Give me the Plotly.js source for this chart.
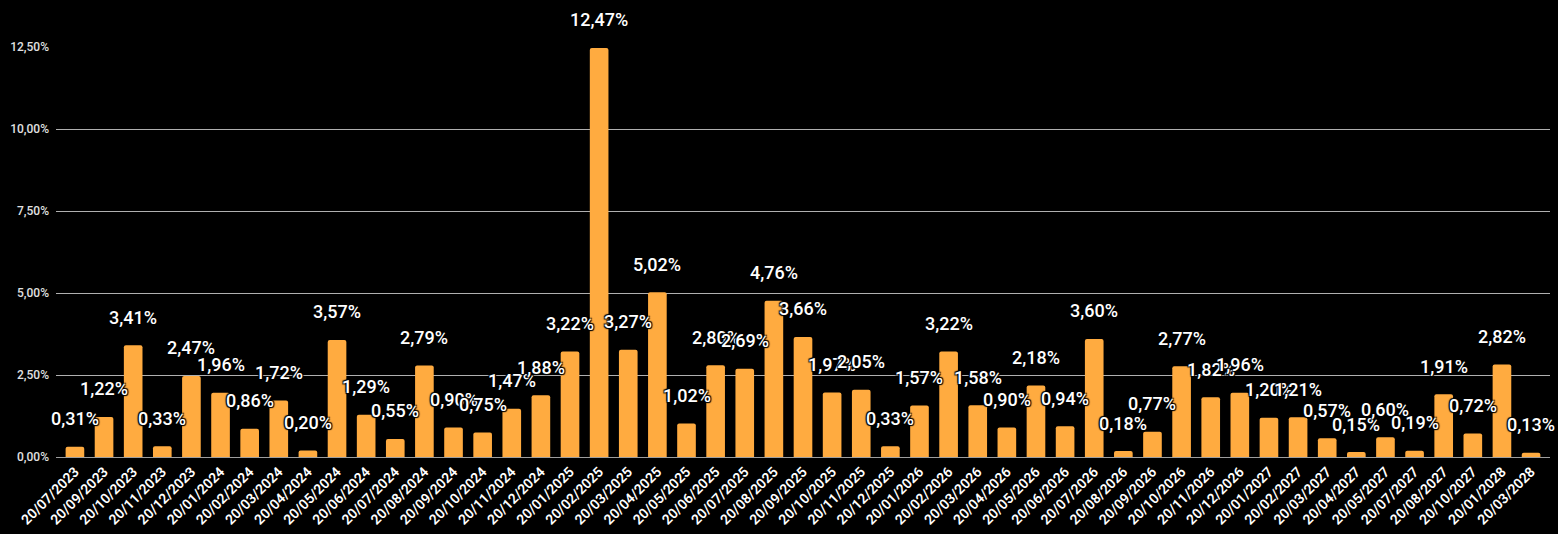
<!DOCTYPE html>
<html>
<head>
<meta charset="utf-8">
<script src="https://cdn.plot.ly/plotly-3.0.1.min.js"></script>
<style>html,body{margin:0;padding:0;background:#000;}#chart{width:1558px;height:534px;}</style>
</head>
<body>
<div id="chart"></div>
<script>
const categories = ["20/07/2023","20/09/2023","20/10/2023","20/11/2023","20/12/2023","20/01/2024","20/02/2024","20/03/2024","20/04/2024","20/05/2024","20/06/2024","20/07/2024","20/08/2024","20/09/2024","20/10/2024","20/11/2024","20/12/2024","20/01/2025","20/02/2025","20/03/2025","20/04/2025","20/05/2025","20/06/2025","20/07/2025","20/08/2025","20/09/2025","20/10/2025","20/11/2025","20/12/2025","20/01/2026","20/02/2026","20/03/2026","20/04/2026","20/05/2026","20/06/2026","20/07/2026","20/08/2026","20/09/2026","20/10/2026","20/11/2026","20/12/2026","20/01/2027","20/02/2027","20/03/2027","20/04/2027","20/05/2027","20/07/2027","20/08/2027","20/10/2027","20/01/2028","20/03/2028"];
const values = [0.31,1.22,3.41,0.33,2.47,1.96,0.86,1.72,0.20,3.57,1.29,0.55,2.79,0.90,0.75,1.47,1.88,3.22,12.47,3.27,5.02,1.02,2.80,2.69,4.76,3.66,1.97,2.05,0.33,1.57,3.22,1.58,0.90,2.18,0.94,3.60,0.18,0.77,2.77,1.82,1.96,1.20,1.21,0.57,0.15,0.60,0.19,1.91,0.72,2.82,0.13];
const yTicks = [0, 2.5, 5, 7.5, 10, 12.5];

const fmt = v => v.toFixed(2).replace('.', ',') + '%';

const trace = {
  type: 'bar',
  x: categories,
  y: values,
  marker: {color: '#ffab40', cornerradius: 2},
  hoverinfo: 'x+y'
};

const annotations = categories.map((c, i) => ({
  x: c, y: values[i], xref: 'x', yref: 'y',
  text: fmt(values[i]), showarrow: false,
  yanchor: 'middle', yshift: 28,
  font: {family: 'Roboto', size: 18, color: '#ffffff', weight: 500,
         shadow: '1px 1px 1px #000, -1px -1px 1px #000, 1px -1px 1px #000, -1px 1px 1px #000'}
}));

const layout = {
  width: 1558, height: 534,
  paper_bgcolor: '#000000', plot_bgcolor: '#000000',
  margin: {l: 56, r: 8, t: 47, b: 77},
  separators: ',.',
  bargap: 0.36,
  showlegend: false,
  font: {family: 'Roboto', color: '#ffffff'},
  xaxis: {
    type: 'category',
    range: [-0.65, 50.65],
    automargin: false,
    tickangle: -45,
    tickfont: {family: 'Roboto', size: 14, color: '#ffffff', weight: 600},
    showgrid: false,
    showline: true, linecolor: '#9e9e9e', linewidth: 1,
    ticks: '', ticklen: 0
  },
  yaxis: {
    range: [0, 12.5],
    automargin: false,
    tickvals: yTicks,
    ticktext: yTicks.map(fmt),
    tickfont: {family: 'Roboto', size: 12, color: '#e0e0e0', weight: 500},
    showgrid: true, gridcolor: '#b0b0b0', gridwidth: 1,
    zeroline: true, zerolinecolor: '#9e9e9e', zerolinewidth: 1,
    ticks: '', ticklabelstandoff: 6,
    fixedrange: true
  },
  annotations: annotations
};

Plotly.newPlot('chart', [trace], layout, {displayModeBar: false, staticPlot: true});
</script>
</body>
</html>
